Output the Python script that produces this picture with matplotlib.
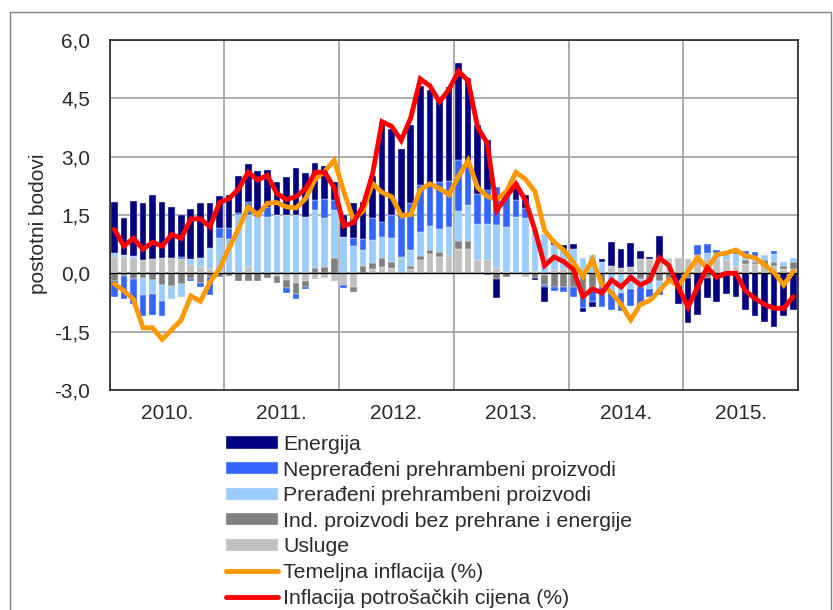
import numpy as np
import matplotlib
matplotlib.use('Agg')
import matplotlib.pyplot as plt
from matplotlib.patches import Rectangle

plt.rcParams['font.family'] = ['Liberation Sans', 'DejaVu Sans']

# godine (oznake na x osi)
years = ['2010.', '2011.', '2012.', '2013.', '2014.', '2015.']

# doprinosi komponenti (postotni bodovi), mjesečno 2010-2015
usluge = [
    0.43, 0.43, 0.40, 0.34, 0.38, 0.40, 0.40, 0.38, 0.21, 0.17, 0.10, 0.03,
    0.00, 0.00, 0.17, 0.00, 0.00, -0.08, -0.17, -0.26, -0.21, -0.15, -0.13, -0.21,
    -0.30, -0.34, 0.00, 0.12, 0.15, 0.13, 0.02, 0.10, 0.34, 0.50, 0.43, 0.43,
    0.62, 0.62, 0.34, 0.34, 0.13, 0.04, -0.03, -0.10, 0.05, -0.05, 0.08, 0.10,
    0.08, 0.00, 0.00, 0.00, 0.20, 0.13, 0.17, 0.36, 0.38, 0.40, 0.40, 0.40,
    0.38, 0.39, 0.36, 0.38, 0.34, 0.20, 0.25, 0.25, 0.20, 0.20, 0.10, 0.10,
]
ind_proizvodi = [
    -0.20, -0.06, -0.15, -0.13, -0.17, -0.30, -0.32, -0.28, -0.15, -0.24, -0.10, -0.10,
    -0.07, -0.20, -0.21, -0.21, -0.13, -0.16, -0.21, -0.27, -0.15, 0.13, 0.17, 0.39,
    0.00, -0.13, 0.19, 0.14, 0.24, 0.15, 0.02, 0.09, 0.10, 0.11, 0.13, 0.02,
    0.20, 0.20, 0.00, -0.04, -0.15, -0.09, 0.00, 0.00, -0.12, -0.25, -0.35, -0.34,
    -0.35, -0.60, -0.35, -0.35, 0.00, 0.00, 0.00, -0.15, -0.20, -0.20, -0.20, 0.00,
    -0.12, 0.00, -0.13, 0.00, 0.00, 0.00, 0.10, 0.05, 0.13, 0.10, 0.10, 0.20,
]
preradjeni = [
    0.10, 0.03, 0.05, -0.43, -0.35, -0.40, -0.33, -0.32, 0.16, 0.23, 0.55, 0.88,
    0.87, 1.50, 1.33, 1.46, 1.46, 1.50, 1.50, 1.50, 1.46, 1.50, 1.24, 1.24,
    0.94, 0.69, 0.41, 0.60, 0.55, 0.63, 0.39, 0.41, 0.62, 0.60, 0.58, 0.73,
    0.77, 0.94, 0.94, 0.94, 1.10, 1.16, 1.46, 1.41, 1.10, 1.00, 0.65, 0.50,
    0.55, 0.40, 0.48, 0.30, -0.45, -0.50, -0.40, -0.20, -0.20, -0.22, 0.00, 0.00,
    0.00, 0.09, 0.15, 0.13, 0.20, 0.30, 0.10, 0.13, 0.13, 0.19, 0.10, 0.10,
]
nepreradjeni = [
    -0.42, -0.60, -0.65, -0.54, -0.55, -0.40, 0.00, 0.03, -0.06, -0.10, -0.45, 0.26,
    0.29, 0.05, 0.34, 0.13, 0.25, 0.00, -0.13, -0.13, -0.05, 0.26, 0.49, 0.25,
    -0.09, 0.21, 0.28, 0.57, 0.39, 0.58, 0.98, 1.22, 1.20, 1.05, 1.20, 1.20,
    1.33, 1.14, 0.77, 0.86, 1.00, 0.90, 0.43, 0.26, 0.00, -0.05, -0.10, -0.15,
    -0.25, -0.30, -0.40, -0.52, -0.50, -0.47, -0.45, -0.50, -0.20, -0.13, 0.00, 0.00,
    0.00, 0.24, 0.24, 0.09, 0.00, 0.13, 0.13, 0.13, 0.00, 0.09, 0.00, 0.00,
]
energija = [
    1.30, 0.95, 1.42, 1.48, 1.63, 1.43, 1.30, 1.10, 1.28, 1.40, 1.15, 0.81,
    0.85, 0.94, 0.97, 1.05, 0.94, 0.86, 0.97, 1.20, 1.13, 0.96, 0.87, 0.48,
    0.56, 0.90, 0.95, 1.08, 2.57, 2.23, 1.78, 1.99, 2.56, 2.45, 2.16, 2.40,
    2.48, 2.13, 1.76, 1.29, -0.48, 0.00, 0.42, 0.34, -0.05, -0.40, 0.07, 0.12,
    0.12, -0.10, -0.12, 0.08, 0.60, 0.50, 0.60, 0.22, 0.04, 0.55, 0.00, -0.80,
    -1.15, -1.07, -0.50, -0.73, -0.53, -0.60, -0.95, -1.10, -1.24, -1.37, -1.11, -0.94,
]

# linije (%)
temeljna = [
    -0.27, -0.45, -0.67, -1.40, -1.40, -1.70, -1.45, -1.20, -0.58, -0.72, -0.23, 0.12,
    0.65, 1.15, 1.71, 1.50, 1.80, 1.82, 1.71, 1.68, 1.92, 2.42, 2.62, 2.91,
    2.10, 1.38, 1.60, 2.31, 2.08, 1.97, 1.49, 1.51, 2.15, 2.30, 2.18, 2.02,
    2.50, 2.90, 2.20, 1.98, 1.90, 2.10, 2.60, 2.42, 2.10, 1.10, 0.80, 0.60,
    0.28, -0.08, 0.35, -0.30, -0.50, -0.80, -1.20, -0.80, -0.70, -0.45, -0.17, -0.32,
    0.05, 0.40, 0.12, 0.48, 0.52, 0.60, 0.45, 0.40, 0.22, 0.02, -0.30, 0.05,
]
cpi = [
    1.13, 0.70, 0.90, 0.62, 0.80, 0.70, 1.00, 0.90, 1.40, 1.40, 1.20, 1.82,
    1.92, 2.17, 2.60, 2.40, 2.52, 2.05, 1.90, 1.97, 2.17, 2.60, 2.60, 2.20,
    1.22, 1.30, 1.73, 2.55, 3.90, 3.78, 3.42, 4.00, 5.00, 4.82, 4.41, 4.73,
    5.20, 4.95, 3.75, 3.35, 1.62, 1.97, 2.30, 1.87, 1.10, 0.20, 0.42, 0.30,
    0.10, -0.60, -0.40, -0.50, -0.17, -0.35, -0.10, -0.30, -0.18, 0.40, 0.20, -0.37,
    -0.87, -0.35, 0.15, -0.10, 0.00, 0.00, -0.45, -0.65, -0.80, -0.90, -0.90, -0.60,
]

series = [
    ('Usluge', usluge, '#C0C0C0'),
    ('Ind. proizvodi bez prehrane i energije', ind_proizvodi, '#808080'),
    ('Prerađeni prehrambeni proizvodi', preradjeni, '#99CCFF'),
    ('Neprerađeni prehrambeni proizvodi', nepreradjeni, '#3366FF'),
    ('Energija', energija, '#000080'),
]

txt_color = '#2B2B2B'
fig = plt.figure(figsize=(8.33, 6.10), dpi=100)
ax = fig.add_axes([0.1315, 0.3607, 0.8265, 0.5737])

n = len(cpi)
x = np.arange(n) + 0.5

# složeni stupci, pozitivni i negativni odvojeno
pos = np.zeros(n)
neg = np.zeros(n)
handles = {}
for name, vals, col in series:
    v = np.array(vals)
    bottom = np.where(v >= 0, pos, neg)
    b = ax.bar(x, v, width=0.7, bottom=bottom, color=col, zorder=2,
               edgecolor='#E8ECF4', linewidth=0.3)
    handles[name] = b
    pos = pos + np.where(v >= 0, v, 0)
    neg = neg + np.where(v < 0, v, 0)

ax.axhline(0, color='black', linewidth=1.0, zorder=2.5)

l1, = ax.plot(x, temeljna, color='#FF9900', linewidth=3.5, zorder=3,
              solid_joinstyle='miter', solid_capstyle='round')
l2, = ax.plot(x, cpi, color='#FF0000', linewidth=3.5, zorder=4,
              solid_joinstyle='miter', solid_capstyle='round')

ax.set_xlim(0, n)
ax.set_ylim(-3.0, 6.0)

yt = np.arange(-3.0, 6.01, 1.5)
ax.set_yticks(yt)
ax.set_yticklabels([f'{v:.1f}'.replace('.', ',') for v in yt])

ax.set_xticks(np.arange(0, n + 1, 12))
ax.set_xticklabels([])
ax.set_xticks(np.arange(6, n, 12), minor=True)
ax.set_xticklabels(years, minor=True)

ax.tick_params(axis='both', which='both', length=0, labelsize=15, colors=txt_color)
ax.tick_params(axis='y', pad=14)
ax.tick_params(axis='x', which='minor', pad=10)

ax.grid(True, which='major', color='#A6A6A6', linewidth=1.3, zorder=0)
ax.set_axisbelow(True)
for s in ax.spines.values():
    s.set_color('#262626')
    s.set_linewidth(1.2)

ax.set_ylabel('postotni bodovi', fontsize=15, color=txt_color)
ax.yaxis.set_label_coords(-0.09, 0.474)

# legenda
leg_handles = [handles['Energija'], handles['Neprerađeni prehrambeni proizvodi'],
               handles['Prerađeni prehrambeni proizvodi'],
               handles['Ind. proizvodi bez prehrane i energije'], handles['Usluge'], l1, l2]
leg_labels = ['Energija', 'Neprerađeni prehrambeni proizvodi', 'Prerađeni prehrambeni proizvodi',
              'Ind. proizvodi bez prehrane i energije', 'Usluge',
              'Temeljna inflacija (%)', 'Inflacija potrošačkih cijena (%)']
leg = fig.legend(leg_handles, leg_labels, loc='upper left',
                 bbox_to_anchor=(226 / 833, 1 - 435 / 610), frameon=False,
                 fontsize=15.3, labelspacing=0.31, handlelength=2.45, handleheight=0.5,
                 handletextpad=0.25, borderpad=0, borderaxespad=0)
for t in leg.get_texts():
    t.set_color(txt_color)

# okvir slike
fig.patches.append(Rectangle((9.5 / 833, -0.01), 821 / 833, 1 - 12 / 610 + 0.01,
                             transform=fig.transFigure, fill=False,
                             edgecolor='#7F7F7F', linewidth=1.0))

fig.savefig('out.png', dpi=100)
